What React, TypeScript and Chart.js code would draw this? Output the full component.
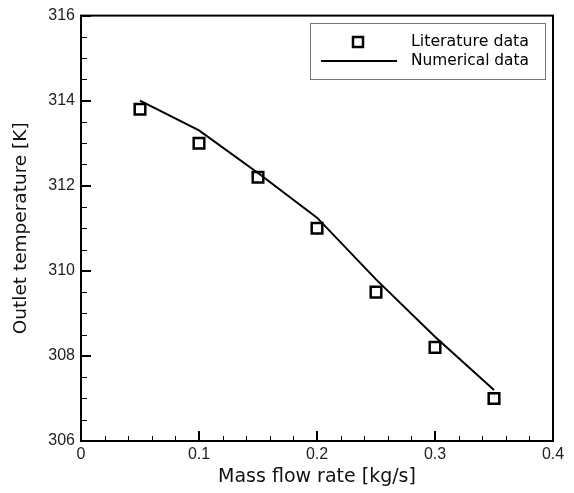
import React, { useEffect, useRef } from "react";
import { Chart, registerables } from "chart.js";

Chart.register(...registerables);

// Data
const massFlow = [0.05, 0.1, 0.15, 0.2, 0.25, 0.3, 0.35];
const literatureTemp = [313.8, 313.0, 312.2, 311.0, 309.5, 308.2, 307.0];
const numericalTemp = [314.0, 313.3, 312.3, 311.25, 309.8, 308.45, 307.2];
const xTickValues = [0, 0.1, 0.2, 0.3, 0.4];
const yTickValues = [306, 308, 310, 312, 314, 316];
const xMinorStep = 0.02;
const yMinorStep = 0.5;
const legendLabels = ["Literature data", "Numerical data"];

const framePlugin = {
  id: "frameAndTicks",
  afterDraw(chart: any) {
    const { ctx, chartArea } = chart;
    const { left, right, top, bottom } = chartArea;
    const xs = chart.scales.x;
    const ys = chart.scales.y;
    ctx.save();
    ctx.strokeStyle = "#000";
    // minor ticks
    ctx.lineWidth = 1;
    ctx.beginPath();
    for (let v = xs.min; v <= xs.max + 1e-9; v += xMinorStep) {
      const px = Math.round(xs.getPixelForValue(v)) + 0.5;
      ctx.moveTo(px, bottom);
      ctx.lineTo(px, bottom - 5);
    }
    for (let v = ys.min; v <= ys.max + 1e-9; v += yMinorStep) {
      const py = Math.round(ys.getPixelForValue(v)) + 0.5;
      ctx.moveTo(left, py);
      ctx.lineTo(left + 6, py);
    }
    ctx.stroke();
    // major ticks
    ctx.lineWidth = 2;
    ctx.beginPath();
    xTickValues.forEach((v) => {
      const px = Math.round(xs.getPixelForValue(v));
      ctx.moveTo(px, bottom);
      ctx.lineTo(px, bottom - 10);
    });
    yTickValues.forEach((v) => {
      const py = Math.round(ys.getPixelForValue(v));
      ctx.moveTo(left, py);
      ctx.lineTo(left + 10, py);
    });
    ctx.stroke();
    // frame
    ctx.lineWidth = 2;
    ctx.strokeRect(left, top, right - left, bottom - top);

    // legend
    const bx = 310, by = 23, bw = 235, bh = 56;
    ctx.fillStyle = "#fff";
    ctx.fillRect(bx, by, bw, bh);
    ctx.lineWidth = 1;
    ctx.strokeStyle = "#777";
    ctx.strokeRect(bx + 0.5, by + 0.5, bw, bh);
    ctx.strokeStyle = "#000";
    ctx.lineWidth = 2.5;
    ctx.strokeRect(353, 37, 10, 10);
    ctx.lineWidth = 2;
    ctx.beginPath();
    ctx.moveTo(321, 61);
    ctx.lineTo(397, 61);
    ctx.stroke();
    ctx.fillStyle = "#000";
    ctx.font = '16px "DejaVu Sans"';
    ctx.textBaseline = "middle";
    ctx.textAlign = "left";
    ctx.fillText(legendLabels[0], 411, 42, 118);
    ctx.fillText(legendLabels[1], 411, 61, 118);
    ctx.restore();
  },
};

export default function App() {
  const ref = useRef<HTMLCanvasElement>(null);
  useEffect(() => {
    document.body.style.margin = "0";
    const canvas = ref.current!;
    const chart = new Chart(canvas, {
      type: "scatter",
      data: {
        datasets: [
          {
            label: legendLabels[1],
            data: massFlow.map((x, i) => ({ x, y: numericalTemp[i] })),
            showLine: true,
            borderColor: "#000",
            borderWidth: 2,
            pointRadius: 0,
            fill: false,
            order: 2,
          },
          {
            label: legendLabels[0],
            data: massFlow.map((x, i) => ({ x, y: literatureTemp[i] })),
            showLine: false,
            pointStyle: "rect",
            pointRadius: 7.5,
            pointBorderWidth: 2.5,
            pointBorderColor: "#000",
            pointBackgroundColor: "rgba(255,255,255,0)",
            order: 1,
          },
        ],
      },
      options: {
        responsive: false,
        animation: false,
        layout: { padding: { top: 10, right: 21, left: 0, bottom: 0 } },
        plugins: { legend: { display: false }, tooltip: { enabled: false } },
        scales: {
          x: {
            type: "linear",
            min: 0,
            max: 0.4,
            afterBuildTicks: (s: any) => {
              s.ticks = xTickValues.map((v) => ({ value: v }));
            },
            afterFit: (s: any) => {
              s.height = 52;
            },
            grid: { display: false, drawTicks: false },
            border: { display: false },
            ticks: {
              padding: 4,
              color: "#222",
              font: { family: "Liberation Sans", size: 16 },
              callback: (v: any) => String(Math.round(Number(v) * 10) / 10),
              maxRotation: 0,
            },
            title: {
              display: true,
              text: "Mass flow rate [kg/s]",
              color: "#111",
              font: { family: "DejaVu Sans", size: 19 },
              padding: { top: 0, bottom: 5 },
            },
          },
          y: {
            type: "linear",
            min: 306,
            max: 316,
            afterBuildTicks: (s: any) => {
              s.ticks = yTickValues.map((v) => ({ value: v }));
            },
            afterFit: (s: any) => {
              s.width = 81;
            },
            grid: { display: false, drawTicks: false },
            border: { display: false },
            ticks: {
              padding: 6,
              color: "#222",
              font: { family: "Liberation Sans", size: 16 },
              callback: (v: any) => String(v),
            },
            title: {
              display: true,
              text: "Outlet temperature [K]",
              color: "#111",
              font: { family: "DejaVu Sans", size: 18.5 },
              padding: { top: 10, bottom: 0 },
            },
          },
        },
      },
      plugins: [framePlugin],
    } as any);
    return () => chart.destroy();
  }, []);
  return <canvas ref={ref} width={574} height={493} style={{ display: "block" }} />;
}
